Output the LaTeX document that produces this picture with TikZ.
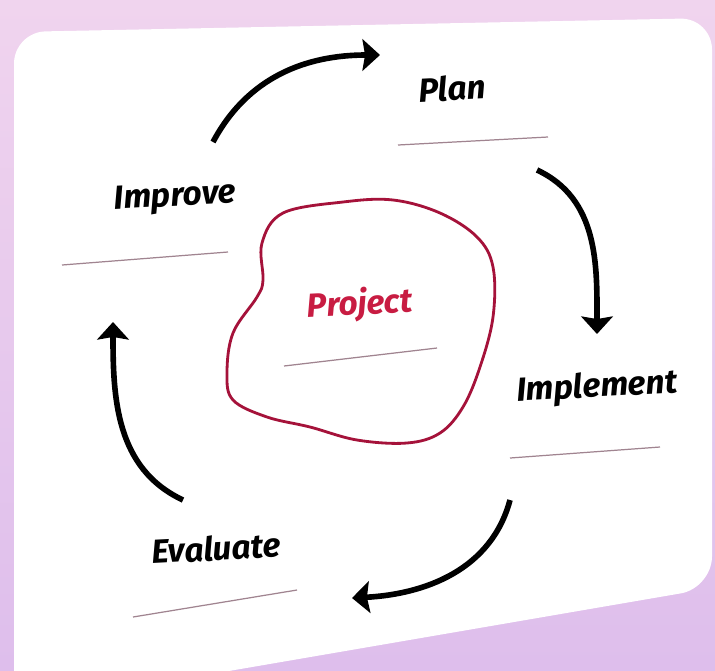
\documentclass[tikz,border=0pt]{standalone}
\usepackage{fontspec}
\setmainfont{Fira Sans}
\usetikzlibrary{arrows.meta}
\definecolor{lilac}{RGB}{240,212,238}
\definecolor{lilacdark}{RGB}{222,190,236}
\definecolor{blobred}{RGB}{165,18,58}
\definecolor{projred}{RGB}{200,28,66}
\definecolor{rulegray}{RGB}{160,132,144}

\begin{document}
\begin{tikzpicture}
  [x=0.02cm,y=0.02cm,
   every node/.style={font=\fontsize{19}{22}\selectfont\bfseries\itshape,rotate=3},
   cycarrow/.style={line width=3.2pt,-{Stealth[length=10pt,width=18pt,inset=1.5pt]}},
   blank/.style={rulegray,line width=0.7pt}]
  \useasboundingbox (0,0) rectangle (715,-670);
  \shade[top color=lilac,bottom color=lilacdark] (0,0) rectangle (715,-670);
  \fill[white,rounded corners=18] (14,-32) -- (712,-18) -- (712,-588) -- (60,-700) -- (14,-700) -- cycle;

  % the project in the middle
  \draw[blobred,line width=1.6pt] plot[smooth cycle,tension=0.6] coordinates
    {(343,-202) (283,-213) (262,-243) (263,-280) (257,-297) (233,-333) (227,-373)
     (233,-400) (267,-417) (310,-427) (357,-440) (407,-443) (440,-433) (463,-407)
     (480,-367) (493,-317) (493,-267) (477,-237) (440,-213) (393,-200)};
  \node[projred] (proj) at (360,-305) {Project};
  \draw[blank] (284,-366) -- (437,-348);

  \node (plan) at (452,-88)  {Plan};
  \node (impl) at (597,-388) {Implement};
  \node (eval) at (216,-548) {Evaluate};
  \node (impr) at (175,-198) {Improve};

  \draw[blank] (398,-145) -- (548,-137);
  \draw[blank] (510,-458) -- (660,-447);
  \draw[blank] (133,-617) -- (297,-590);
  \draw[blank] (62,-265) -- (228,-252);

  \coordinate (a1) at (213,-142); \coordinate (b1) at (380,-55);
  \coordinate (a2) at (537,-170); \coordinate (b2) at (597,-334);
  \coordinate (a3) at (510,-500); \coordinate (b3) at (352,-598);
  \coordinate (a4) at (183,-500); \coordinate (b4) at (113,-322);

  \foreach \from/\to/\o/\i in {a1/b1/62/180,a2/b2/-25/90,a3/b3/-105/3,a4/b4/155/-90}
    \draw[cycarrow] (\from) to[out=\o,in=\i] (\to);
\end{tikzpicture}
\end{document}
